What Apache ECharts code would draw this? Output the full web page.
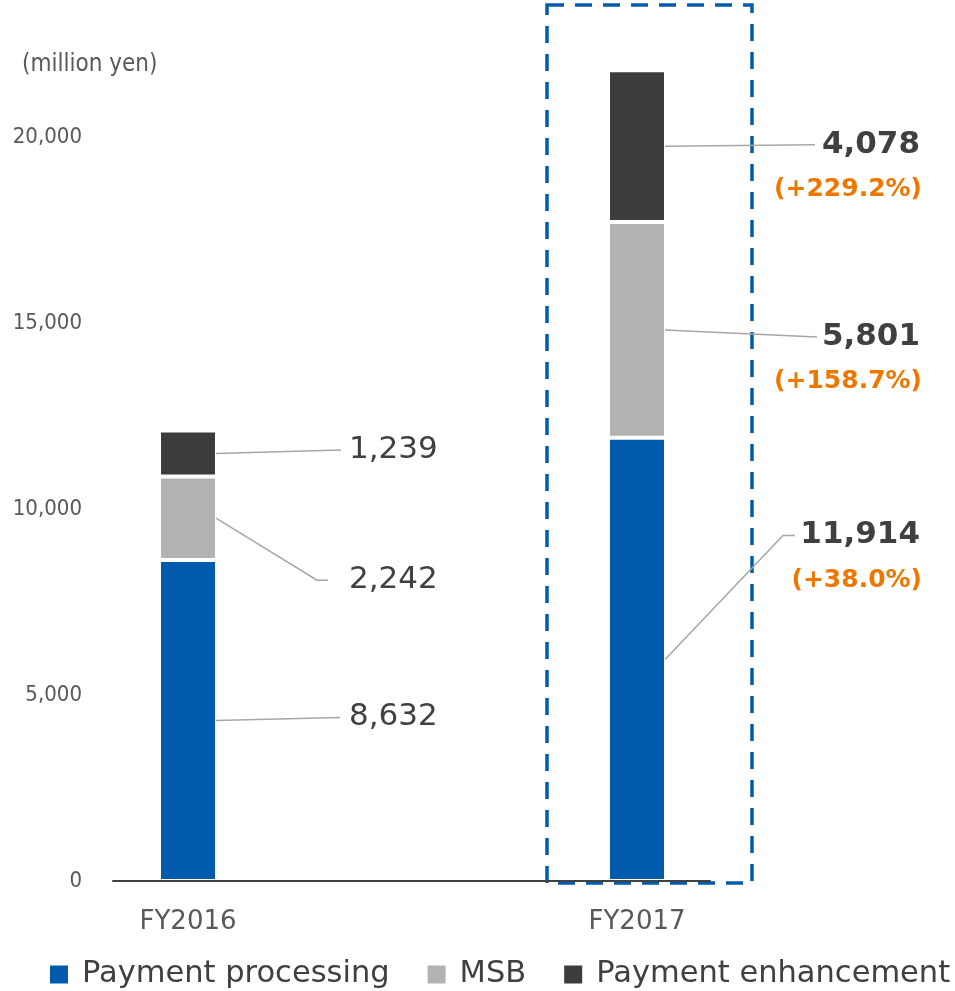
<!DOCTYPE html>
<html>
<head>
<meta charset="utf-8">
<script src="https://cdn.jsdelivr.net/npm/echarts@6/dist/echarts.min.js"></script>
<style>
  html, body { margin: 0; padding: 0; background: #ffffff; }
  #chart { width: 955px; height: 991px; }
</style>
</head>
<body>
<div id="chart"></div>
<script>
// ---- data ----
const categories = ['FY2016', 'FY2017'];
const seriesNames = ['Payment processing', 'MSB', 'Payment enhancement'];
const paymentProcessing = [8632, 11914];
const msb = [2242, 5801];
const paymentEnhancement = [1239, 4078];
const growthProcessing = ['', '+38.0%'];
const growthMsb = ['', '+158.7%'];
const growthEnhancement = ['', '+229.2%'];
const yTickValues = [0, 5000, 10000, 15000, 20000];
const yMax = 22000;

// ---- styling ----
const colors = ['#005BAC', '#B2B2B2', '#3C3C3C'];
const textDark = '#404040';
const axisText = '#595959';
const growthColor = '#EE7700';
const leaderColor = '#A6A6A6';
const baseFont = '"DejaVu Sans", Verdana, sans-serif';
const narrowFont = '"DejaVu Sans Condensed", "DejaVu Sans", sans-serif';
const BAR_WIDTH = 58;

// leader line / label placement per category and segment (pixel offsets from the bar centre)
const leaderLayout = [
  [ // FY2016: labels left-aligned
    { dy: -3, lineEnd: 152 },
    { dy: 62, lineEnd: 140, elbow: 11 },
    { dy: -3.5, lineEnd: 153 }
  ],
  [ // FY2017: labels right-aligned with growth rate below
    { dy: -124, lineEnd: 158, elbow: 12 },
    { dy: 7, lineEnd: 180 },
    { dy: -1.5, lineEnd: 178 }
  ]
];

const seriesValues = [paymentProcessing, msb, paymentEnhancement];
const growthValues = [growthProcessing, growthMsb, growthEnhancement];
const fmt = v => v.toLocaleString('en-US');

// segment ranges for the annotation layer: [category, lower, upper, segment]
const segmentRanges = [];
categories.forEach((c, ci) => {
  let base = 0;
  seriesValues.forEach((vals, si) => {
    segmentRanges.push([ci, base, base + vals[ci], si]);
    base += vals[ci];
  });
});

const chart = echarts.init(document.getElementById('chart'), null, { renderer: 'canvas' });

const barSeries = seriesNames.map((name, i) => ({
  name: name,
  type: 'bar',
  stack: 'total',
  xAxisIndex: 0,
  yAxisIndex: 0,
  barWidth: BAR_WIDTH,
  clip: false,
  itemStyle: { color: colors[i], borderColor: '#ffffff', borderWidth: 2 },
  emphasis: { disabled: true },
  data: seriesValues[i]
}));

const annotationSeries = {
  type: 'custom',
  xAxisIndex: 0,
  yAxisIndex: 0,
  z: 5,
  silent: true,
  clip: false,
  encode: { x: 0, y: [1, 2] },
  data: segmentRanges,
  renderItem: function (params, api) {
    const cat = api.value(0);
    const lo = api.value(1);
    const hi = api.value(2);
    const seg = api.value(3);
    const mid = api.coord([cat, (lo + hi) / 2]);
    const L = leaderLayout[cat][seg];
    const x0 = mid[0] + BAR_WIDTH / 2 - 1;
    const y0 = mid[1];
    const y1 = y0 + L.dy;
    const xEnd = mid[0] + L.lineEnd;
    const pts = L.elbow
      ? [[x0, y0], [xEnd - L.elbow, y1], [xEnd, y1]]
      : [[x0, y0], [xEnd, y1]];
    const focus = cat === 1;
    const children = [
      {
        type: 'polyline',
        shape: { points: pts },
        style: { stroke: leaderColor, lineWidth: 1.5, fill: null }
      },
      {
        type: 'text',
        x: focus ? mid[0] + 283 : mid[0] + 161,
        y: y1,
        style: {
          text: fmt(seriesValues[seg][cat]),
          fill: textDark,
          font: (focus ? 'bold 31px ' : '31px ') + baseFont,
          align: focus ? 'right' : 'left',
          verticalAlign: 'middle'
        }
      }
    ];
    const growth = growthValues[seg][cat];
    if (growth) {
      children.push({
        type: 'text',
        x: mid[0] + 285,
        y: y1 + 45,
        style: {
          text: '(' + growth + ')',
          fill: growthColor,
          font: 'bold 25px ' + baseFont,
          align: 'right',
          verticalAlign: 'middle'
        }
      });
    }
    return { type: 'group', children: children };
  }
};

chart.setOption({
  animation: false,
  backgroundColor: '#ffffff',
  title: {
    text: '(million yen)',
    left: 22,
    top: 53,
    padding: 0,
    textStyle: { color: axisText, fontSize: 24, fontWeight: 'normal', fontFamily: narrowFont }
  },
  legend: {
    data: seriesNames,
    left: 50,
    top: 959,
    padding: 0,
    itemWidth: 18,
    itemHeight: 18,
    itemGap: 38,
    icon: 'rect',
    itemStyle: { borderWidth: 0 },
    textStyle: { color: textDark, fontSize: 30.5, fontFamily: baseFont, padding: [0, 0, 0, 9] }
  },
  grid: [
    // plotting grid: the two categories sit on its left and right edges
    { left: 188, right: 318, top: 62.6, bottom: 110 },
    // axis grid: the visible baseline and value labels
    { left: 113, right: 245, top: 62.6, bottom: 110 }
  ],
  xAxis: [
    {
      gridIndex: 0,
      type: 'category',
      data: categories,
      boundaryGap: false,
      axisLine: { show: false },
      axisTick: { show: false },
      splitLine: { show: false },
      axisLabel: { color: axisText, fontSize: 26, fontFamily: baseFont, margin: 28 }
    },
    {
      gridIndex: 1,
      type: 'value',
      min: 0,
      max: 1,
      z: 6,
      axisLine: { show: true, lineStyle: { color: textDark, width: 2 } },
      axisTick: { show: false },
      axisLabel: { show: false },
      splitLine: { show: false }
    }
  ],
  yAxis: [
    {
      gridIndex: 0,
      type: 'value',
      min: 0,
      max: yMax,
      show: false,
      splitLine: { show: false }
    },
    {
      gridIndex: 1,
      type: 'value',
      min: 0,
      max: yMax,
      interval: 5000,
      axisLine: { show: false },
      axisTick: { show: false },
      splitLine: { show: false },
      axisLabel: {
        color: axisText,
        fontSize: 22,
        fontFamily: narrowFont,
        margin: 31,
        padding: [0, 0, 3, 0],
        formatter: v => (yTickValues.indexOf(v) >= 0 ? fmt(v) : '')
      }
    }
  ],
  graphic: [
    {
      type: 'rect',
      z: 1,
      silent: true,
      shape: { x: 547, y: 5, width: 205, height: 878 },
      style: { fill: null, stroke: '#005BAC', lineWidth: 3.5, lineDash: [17, 11] }
    }
  ],
  series: barSeries.concat([annotationSeries])
});
</script>
</body>
</html>
